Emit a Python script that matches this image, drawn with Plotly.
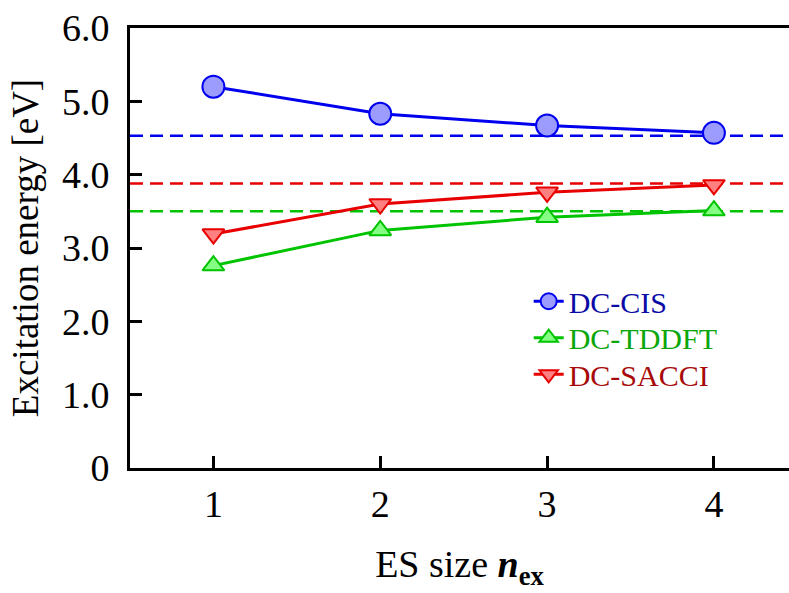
import plotly.graph_objects as go

# ES size n_ex
es_size = [1, 2, 3, 4]

# Excitation energies [eV] from the divide-and-conquer schemes
dc_cis = [5.20, 4.83, 4.67, 4.57]
dc_tddft = [2.76, 3.24, 3.42, 3.51]
dc_sacci = [3.19, 3.60, 3.76, 3.86]

# Reference (full-system) excitation energies [eV]
ref_cis = 4.53
ref_sacci = 3.88
ref_tddft = 3.50

y_ticks = [0, 1, 2, 3, 4, 5, 6]
y_ticktext = ["0", "1.0", "2.0", "3.0", "4.0", "5.0", "6.0"]
x_ticks = [1, 2, 3, 4]

FONT = "Liberation Serif, Times New Roman, serif"

# name, values, symbol, size, line colour, fill colour, label colour, legend id, legend y
series = [
    ("DC-CIS", dc_cis, "circle", 22, "#0000ee", "#9c9cff", "#0a0aa6", "legend", 0.379),
    ("DC-TDDFT", dc_tddft, "triangle-up", 19, "#00c400", "#84ff84", "#0aa60a", "legend2", 0.296),
    ("DC-SACCI", dc_sacci, "triangle-down", 19, "#e80000", "#ff8080", "#a80a0a", "legend3", 0.213),
]

fig = go.Figure()
legend_layout = {}
for name, vals, sym, size, line_c, fill_c, text_c, leg, ly in series:
    fig.add_trace(go.Scatter(
        x=es_size, y=vals, mode="lines+markers",
        name=name, legend=leg,
        line=dict(color=line_c, width=3),
        marker=dict(symbol=sym, size=size, color=fill_c,
                    line=dict(color=line_c, width=2)),
    ))
    legend_layout[leg] = dict(
        x=0.605, y=ly, xanchor="left", yanchor="middle",
        bgcolor="rgba(0,0,0,0)",
        font=dict(size=30, family=FONT, color=text_c),
    )

# Horizontal dashed reference levels
for val, col in [(ref_cis, "#0000ee"), (ref_sacci, "#e80000"), (ref_tddft, "#00c400")]:
    fig.add_shape(type="line", xref="paper", yref="y", x0=0, x1=1, y0=val, y1=val,
                  line=dict(color=col, width=2.5, dash="13px,7px"), layer="below")

fig.update_layout(
    width=789, height=593,
    margin=dict(l=130, r=0, t=28, b=125),
    paper_bgcolor="white", plot_bgcolor="white",
    font=dict(family=FONT, size=38, color="black"),
    showlegend=True,
    **legend_layout,
)

fig.update_xaxes(
    range=[0.5, 4.45], tickvals=x_ticks,
    showgrid=False, zeroline=False,
    showline=True, linecolor="black", linewidth=3, mirror=True,
    ticks="inside", ticklen=12, tickwidth=3, tickcolor="black",
    ticklabelstandoff=0,
    title=dict(text="ES size <b><i>n</i></b><sub><b>ex</b></sub>", standoff=27,
               font=dict(size=38)),
)
fig.update_yaxes(
    range=[0, 6], tickvals=y_ticks, ticktext=y_ticktext,
    showgrid=False, zeroline=False,
    showline=True, linecolor="black", linewidth=3, mirror=False,
    ticks="inside", ticklen=12, tickwidth=3, tickcolor="black",
    ticklabelstandoff=10,
    title=dict(text="Excitation energy [eV]", standoff=12, font=dict(size=37)),
)

fig.write_html("out.html")
